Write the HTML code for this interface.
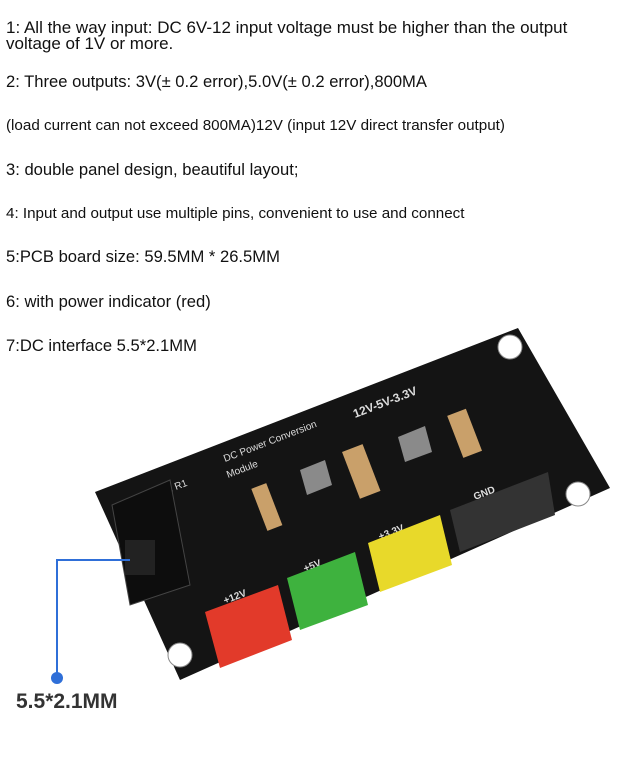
<!DOCTYPE html>
<html><head><meta charset="utf-8"><style>
body{margin:0;width:620px;height:760px;background:#fff;position:relative;overflow:hidden;font-family:"Liberation Sans",sans-serif;color:#111}
.t{position:absolute;left:6px;white-space:nowrap}
</style></head><body>
<div class="t" style="top:20px;font-size:17px;line-height:16px">1: All the way input: DC 6V-12 input voltage must be higher than the output<br>voltage of 1V or more.</div>
<div class="t" style="top:72px;font-size:16.6px">2: Three outputs: 3V(± 0.2 error),5.0V(± 0.2 error),800MA</div>
<div class="t" style="top:117px;font-size:15.2px">(load current can not exceed 800MA)12V (input 12V direct transfer output)</div>
<div class="t" style="top:160px;font-size:16.6px">3: double panel design, beautiful layout;</div>
<div class="t" style="top:205px;font-size:15.2px">4: Input and output use multiple pins, convenient to use and connect</div>
<div class="t" style="top:247px;font-size:16.6px">5:PCB board size: 59.5MM * 26.5MM</div>
<div class="t" style="top:292px;font-size:16.6px">6: with power indicator (red)</div>
<div class="t" style="top:336px;font-size:16.6px">7:DC interface 5.5*2.1MM</div>
<svg width="620" height="760" style="position:absolute;left:0;top:0">
<polygon points="95,492 518,328 610,488 180,680" fill="#141414"/>
<circle cx="510" cy="347" r="12" fill="#fff" stroke="#888"/>
<circle cx="578" cy="494" r="12" fill="#fff" stroke="#888"/>
<circle cx="180" cy="655" r="12" fill="#fff" stroke="#888"/>
<g font-family="Liberation Sans" fill="#ddd" font-size="10">
<text transform="translate(225,462) rotate(-21)">DC Power Conversion</text>
<text transform="translate(228,478) rotate(-21)">Module</text>
<text transform="translate(355,418) rotate(-21)" font-weight="bold" font-size="12">12V-5V-3.3V</text>
<text transform="translate(150,500) rotate(-21)">LED1 R1</text>
<text transform="translate(475,500) rotate(-21)" font-weight="bold">GND</text>
<text transform="translate(380,540) rotate(-21)" font-weight="bold">+3.3V</text>
<text transform="translate(305,572) rotate(-21)" font-weight="bold">+5V</text>
<text transform="translate(225,604) rotate(-21)" font-weight="bold">+12V</text>
</g>
<g fill="#8a8a8a"><polygon points="300,470 325,460 332,485 307,495"/><polygon points="398,437 425,426 432,452 405,462"/></g>
<g fill="#c9a06a"><rect x="350" y="445" width="22" height="50" transform="rotate(-21 365 470)"/><rect x="455" y="410" width="20" height="45" transform="rotate(-21 467 434)"/><rect x="258" y="485" width="16" height="45" transform="rotate(-21 265 505)"/></g>
<g>
<polygon points="205,612 278,585 292,640 220,668" fill="#e23a2a"/>
<polygon points="287,578 355,552 368,605 300,630" fill="#3eb23e"/>
<polygon points="368,543 440,515 452,565 380,592" fill="#e8d92a"/>
<polygon points="450,510 548,472 555,515 460,552" fill="#333"/>
</g>
<polygon points="112,505 170,480 190,585 130,605" fill="#0d0d0d" stroke="#444"/>
<rect x="125" y="540" width="30" height="35" fill="#222"/>
<polyline points="130,560 57,560 57,678" fill="none" stroke="#2f6fd8" stroke-width="2"/>
<circle cx="57" cy="678" r="6" fill="#2f6fd8"/>
<text x="16" y="708" font-family="Liberation Sans" font-weight="bold" font-size="21" fill="#333">5.5*2.1MM</text>
</svg>
</body></html>
